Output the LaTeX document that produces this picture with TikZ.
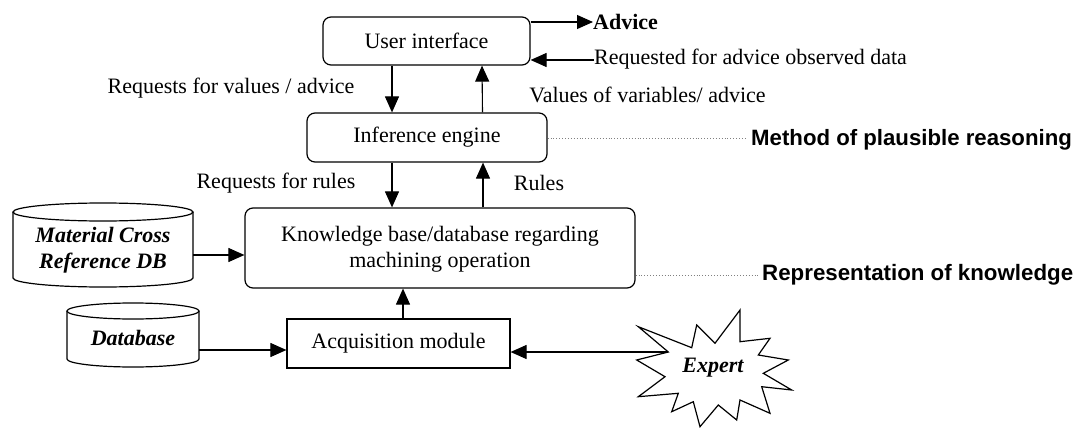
\documentclass[tikz,border=0pt]{standalone}
\usepackage{fontspec}
\setmainfont{Liberation Serif}
\newfontfamily\labsans{Liberation Sans}
\usetikzlibrary{arrows.meta}
\begin{document}
\begin{tikzpicture}[x=1pt,y=-1pt,
  every node/.style={font=\fontsize{22}{26}\selectfont, inner sep=0pt},
  rbox/.style={draw, line width=1.2pt, rounded corners=8pt, align=center},
  sbox/.style={draw, line width=1.2pt, align=center},
  arr/.style={line width=1.1pt, -{Triangle[length=16pt,width=14pt]}},
  dotl/.style={gray, dotted, line width=0.9pt},
  cyl/.style={line width=1.2pt},
  dbtext/.style={font=\fontsize{22}{26}\selectfont\bfseries\itshape, align=center},
  side/.style={anchor=west}]
\useasboundingbox (0,0) rectangle (1076,428);

% boxes
\node[rbox, minimum width=207pt, minimum height=48pt] (ui) at (426.5,41) {User interface};
\node[rbox, minimum width=240pt, minimum height=49pt] (ie) at (427,137.5) {Inference engine};
\node[rbox, minimum width=390pt, minimum height=80pt] (kb) at (440,248) {};
\node (kbt) at (440,249) [align=center] {Knowledge base/database regarding\\machining operation};
\node[sbox, minimum width=223pt, minimum height=49pt] (acq) at (398.5,343.5) {Acquisition module};

% cylinders
\draw[cyl] (13,212) -- (13,278) arc[start angle=180,end angle=360,x radius=90pt,y radius=9pt] -- (193,212);
\draw[cyl] (103,212) ellipse[x radius=90pt,y radius=9pt];
\node[minimum width=180pt, minimum height=84pt] (mcr) at (103,245) {};
\node[dbtext] (mcrt) at (103,250) {Material Cross\\Reference DB};

\draw[cyl] (67,311) -- (67,359) arc[start angle=180,end angle=360,x radius=66pt,y radius=8pt] -- (199,311);
\draw[cyl] (133,311) ellipse[x radius=66pt,y radius=8pt];
\node[minimum width=132pt, minimum height=64pt] (db) at (133,335) {};
\node[dbtext] (dbt) at (133,338) {Database};

% expert star
\draw[line width=1.2pt, line join=miter]
 (638.3,326.7) -- (691.7,347.7) -- (696.7,325) -- (715,343.3) -- (740,310) -- (740,341.7)
 -- (770,338.3) -- (758.3,355) -- (788.3,360) -- (763.3,373.3) -- (791.7,390) -- (761.7,386.7)
 -- (770,413.3) -- (740,400) -- (736.7,420) -- (718.3,405) -- (700,426.7) -- (693.3,401.7)
 -- (671.7,411.7) -- (678.3,393.3) -- (638.3,396.7) -- (665,376.7) -- (636.7,360) -- (668.3,352) -- cycle;
\coordinate (expin) at (668.3,352);
\node[dbtext] (exp) at (713,368) {Expert};

% external texts
\node[anchor=west, font=\fontsize{22}{26}\selectfont\bfseries] (adv) at (593,22) {Advice};
\node[anchor=west] (req) at (594,59) {Requested for advice observed data};
\coordinate (reqin) at (594,60);

% labels
\node (l1) at (231,88) {Requests for values / advice};
\node (l2) at (647.5,95) {Values of variables/ advice};
\node (l3) at (276,183) {Requests for rules};
\node (l4) at (539,183) {Rules};

% connectors
\draw[arr] ([xshift=-34.5pt]ui.south) -- ([xshift=-35pt]ie.north);
\draw[arr] ([xshift=55.5pt]ie.north) -- ([xshift=55.5pt]ui.south);
\draw[arr] ([xshift=-35pt]ie.south) -- ([xshift=-48pt]kb.north);
\draw[arr] ([xshift=43pt]kb.north) -- ([xshift=56pt]ie.south);
\draw[arr] ([xshift=4.5pt]acq.north) -- ([xshift=-37pt]kb.south);
\draw[arr] ([yshift=-10pt]mcr.east) -- ([yshift=-7pt]kb.west);
\draw[arr] ([yshift=-15pt]db.east) -- ([yshift=-6.5pt]acq.west);
\draw[arr] (expin) -- ([yshift=-8.5pt]acq.east);
\draw[arr] ([yshift=19pt]ui.east) -- (adv.west);
\draw[arr] (reqin) -- ([yshift=-19pt]ui.east);

% dotted lines and side texts
\draw[dotl] ([yshift=-0.5pt]ie.east) -- (745,138);
\node[side, font=\fontsize{22.2}{26}\selectfont\labsans\bfseries] (meth) at (751,140) {Method of plausible reasoning};
\draw[dotl] ([yshift=-27pt]kb.east) -- (760,275);
\node[side, font=\fontsize{22.3}{26}\selectfont\labsans\bfseries] (rep) at (762,275) {Representation of knowledge};
\end{tikzpicture}
\end{document}
